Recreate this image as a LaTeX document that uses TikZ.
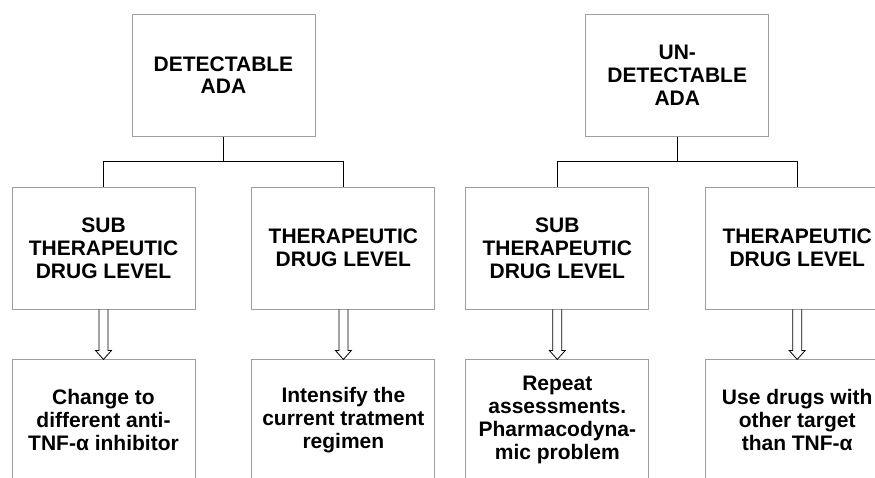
\documentclass[tikz,border=0pt]{standalone}
\usepackage{fontspec}
\setmainfont{Liberation Sans}
\usetikzlibrary{positioning}
\tikzstyle{levelbox} = [
    rectangle, minimum width=183pt, minimum height=122pt,
    text centered, align=center, draw=black!38, line width=0.9pt
]
\tikzstyle{actionbox} = [levelbox, minimum height=120pt]
\tikzstyle{link} = [draw=black, line width=1.2pt]
\tikzstyle{hollow} = [draw=black, line width=0.8pt]

\begin{document}
\begin{tikzpicture}[
    x=1pt, y=1pt,
    node distance=50pt and 56pt,
    font=\fontsize{21}{22.8}\selectfont\bfseries
]
\useasboundingbox (0,0) rectangle (875,-477);

% Niveles de fármaco
\node (s1) [levelbox] at (103.5,-248)             {SUB \\ THERAPEUTIC \\ DRUG LEVEL};
\node (t1) [levelbox, right=of s1]                {THERAPEUTIC \\ DRUG LEVEL};
\node (s2) [levelbox, right=30pt of t1]           {SUB \\ THERAPEUTIC \\ DRUG LEVEL};
\node (t2) [levelbox, right=of s2]                {THERAPEUTIC \\ DRUG LEVEL};

% ADA
\node (d1) [levelbox, above=of s1.north east, xshift=28pt] {DETECTABLE \\ ADA};
\node (u1) [levelbox, above=of s2.north east, xshift=28pt] {UN- \\ DETECTABLE \\ ADA};

% Acciones
\node (o1) [actionbox, below=of s1]               {Change to \\ different anti- \\ TNF-α inhibitor};
\node (p1) [actionbox, below=of t1]               {Intensify the \\ current tratment \\ regimen};
\node (o2) [actionbox, below=of s2]               {Repeat \\ assessments. \\ Pharmacodyna- \\ mic problem};
\node (p2) [actionbox, below=of t2]               {Use drugs with \\ other target \\ than TNF-α};

% Ramas
\draw [link] (d1.south) -- ++(0,-25) -| (s1.north);
\draw [link] (d1.south) -- ++(0,-25) -| (t1.north);
\draw [link] (u1.south) -- ++(0,-25) -| (s2.north);
\draw [link] (u1.south) -- ++(0,-25) -| (t2.north);

% Flechas huecas
\draw [hollow] ([xshift=-4.5pt]s1.south) -- ([xshift=-4.5pt,yshift=9pt]o1.north) -- ([xshift=-8pt,yshift=9pt]o1.north) -- (o1.north) -- ([xshift=8pt,yshift=9pt]o1.north) -- ([xshift=4.5pt,yshift=9pt]o1.north) -- ([xshift=4.5pt]s1.south);
\draw [hollow] ([xshift=-4.5pt]t1.south) -- ([xshift=-4.5pt,yshift=9pt]p1.north) -- ([xshift=-8pt,yshift=9pt]p1.north) -- (p1.north) -- ([xshift=8pt,yshift=9pt]p1.north) -- ([xshift=4.5pt,yshift=9pt]p1.north) -- ([xshift=4.5pt]t1.south);
\draw [hollow] ([xshift=-4.5pt]s2.south) -- ([xshift=-4.5pt,yshift=9pt]o2.north) -- ([xshift=-8pt,yshift=9pt]o2.north) -- (o2.north) -- ([xshift=8pt,yshift=9pt]o2.north) -- ([xshift=4.5pt,yshift=9pt]o2.north) -- ([xshift=4.5pt]s2.south);
\draw [hollow] ([xshift=-4.5pt]t2.south) -- ([xshift=-4.5pt,yshift=9pt]p2.north) -- ([xshift=-8pt,yshift=9pt]p2.north) -- (p2.north) -- ([xshift=8pt,yshift=9pt]p2.north) -- ([xshift=4.5pt,yshift=9pt]p2.north) -- ([xshift=4.5pt]t2.south);

\end{tikzpicture}
\end{document}
